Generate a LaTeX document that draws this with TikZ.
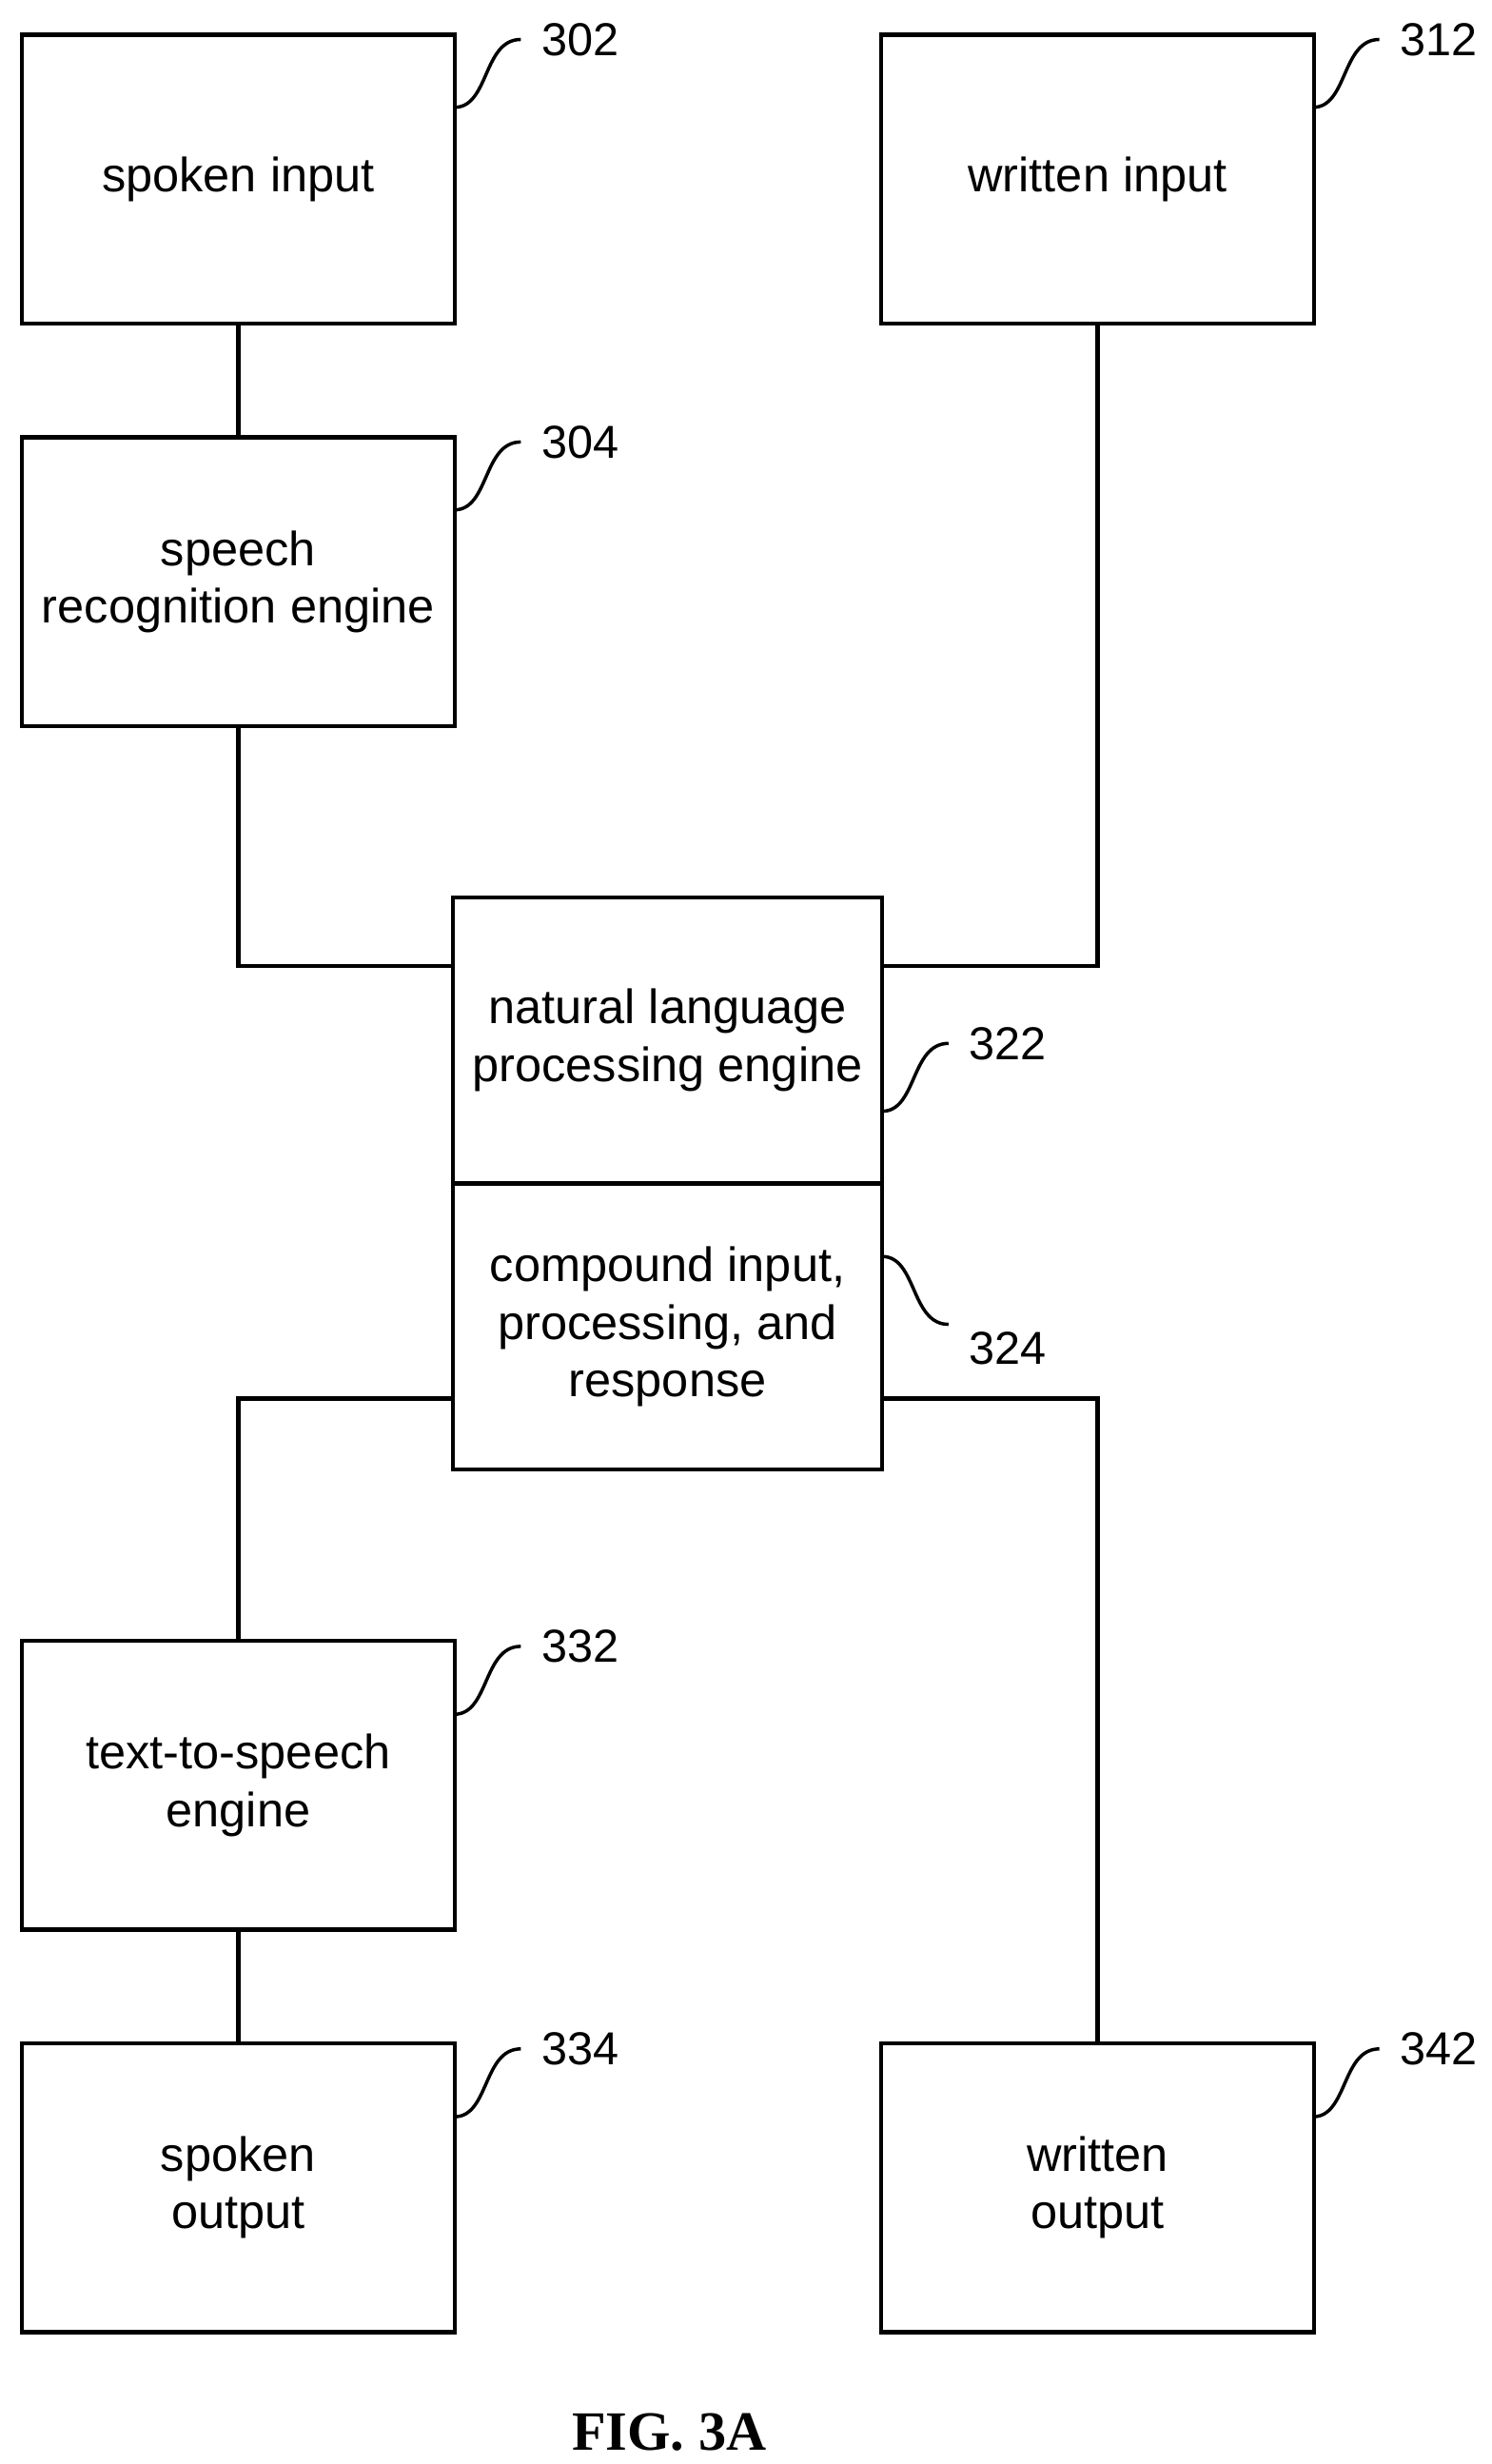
\documentclass[tikz,border=0pt]{standalone}
\usepackage{fontspec}
\setmainfont{Liberation Sans}
\newfontfamily\figfont{Liberation Serif}
\begin{document}
\begin{tikzpicture}[x=0.03cm,y=-0.03cm,
  box/.style={draw,line width=2.2pt,align=center,font=\fontsize{26}{31}\selectfont,inner sep=0pt,minimum width=8.22cm,minimum height=5.49cm},
  half/.style={box,minimum height=5.43cm,minimum width=8.16cm},
  ln/.style={line width=2.2pt},
  sq/.style={line width=1.8pt},
  lab/.style={font=\fontsize{25}{30}\selectfont,anchor=west,inner sep=0pt}]
\useasboundingbox (0,0) rectangle (945,1561);
\node[box] (si) at (151,113.5) {spoken input};
\node[box] (wi) at (695.5,113.5) {written input};
\node[box] (sr) at (151,368.5) {speech\\recognition engine};
\node[half] (nlp) at (423,659) {natural language\\processing engine};
\node[half] (cip) at (423,840.5) {compound input,\\processing, and\\response};
\node[box] (tts) at (151,1131) {text-to-speech\\engine};
\node[box] (so) at (151,1386) {spoken\\output};
\node[box] (wo) at (695.5,1386) {written\\output};
\draw[ln] (si.south) -- (sr.north);
\draw[ln] (tts.south) -- (so.north);
\draw[ln] (sr.south) |- (nlp.west |- 0,612);
\draw[ln] (wi.south) |- (nlp.east |- 0,612);
\draw[ln] (cip.west |- 0,886) -| (tts.north);
\draw[ln] (cip.east |- 0,886) -| (wo.north);
\foreach \t/\x/\y in {302/288/22,312/832/22,304/288/277,332/288/1040,334/288/1295,342/832/1295}{
  \draw[sq] (\x,\y+46) .. controls (\x+22,\y+46) and (\x+18,\y+3) .. (\x+42,\y+3);
  \node[lab] at (\x+55,\y+3) {\t};
}
\draw[sq] (559,704) .. controls (581,704) and (577,661) .. (601,661);
\node[lab] at (614,661) {322};
\draw[sq] (559,796) .. controls (581,796) and (577,839) .. (601,839);
\node[lab] at (614,854) {324};
\node[font=\figfont\bfseries\fontsize{30}{36}\selectfont] at (424,1541) {FIG. 3A};
\end{tikzpicture}
\end{document}
